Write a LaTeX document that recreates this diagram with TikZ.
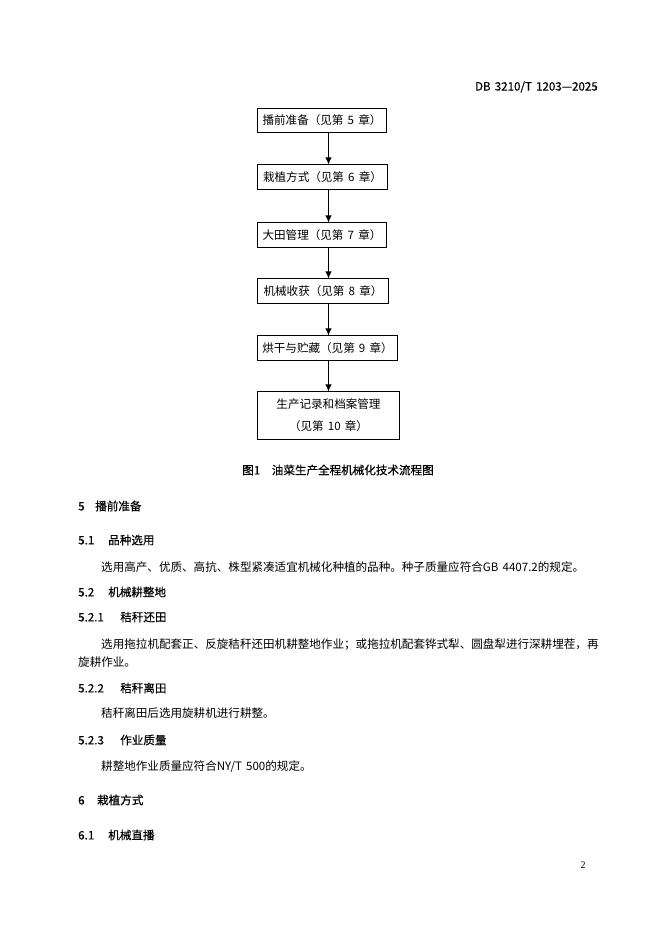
\documentclass[tikz,border=0pt]{standalone}
\usepackage{fontspec}
\setmainfont{Noto Sans CJK SC}[WordSpace=1.6]
\newfontfamily\heifont{Noto Sans CJK SC}[WordSpace=1.6,RawFeature={embolden=0.4}]
\newfontfamily\pgfont{Liberation Serif}
\usetikzlibrary{arrows.meta}

\begin{document}
\begin{tikzpicture}[x=0.8992pt,y=-0.8992pt]
\tikzstyle{every node}+=[inner sep=0pt,font=\fontsize{10.4pt}{16.2pt}\selectfont]
\tikzstyle{stage}=[draw=black,line width=0.9pt,anchor=west,minimum height=21.6pt,align=center]
\tikzstyle{txt}=[anchor=west,align=left]
\tikzstyle{head}=[txt,font=\heifont\fontsize{10.4pt}{16.2pt}\selectfont]
\tikzstyle{flow}=[line width=0.9pt,-{Latex[length=6.5pt,width=6pt]}]
\useasboundingbox (0,0) rectangle (662,936);
\node [anchor=east,font=\heifont\fontsize{10.4pt}{16.2pt}\selectfont] (hdr) at (598,87) {DB 3210/T 1203—2025};
\node [stage,minimum width=116.0pt] (ch5) at (257,120.5) {播前准备（见第 5 章）};
\node [stage,minimum width=116.9pt] (ch6) at (257,177) {栽植方式（见第 6 章）};
\node [stage,minimum width=116.0pt] (ch7) at (257,235) {大田管理（见第 7 章）};
\node [stage,minimum width=117.8pt] (ch8) at (257,291) {机械收获（见第 8 章）};
\node [stage,minimum width=125.9pt] (ch9) at (257,348) {烘干与贮藏（见第 9 章）};
\node [stage,minimum width=127.7pt,minimum height=42.3pt,font=\fontsize{10.4pt}{19.8pt}\selectfont] (ch10) at (257,415.5) {生产记录和档案管理\\（见第 10 章）};
\coordinate (ax) at (328.5,0);
\draw [flow] (ch5.south -| ax) -- (ch6.north -| ax);
\draw [flow] (ch6.south -| ax) -- (ch7.north -| ax);
\draw [flow] (ch7.south -| ax) -- (ch8.north -| ax);
\draw [flow] (ch8.south -| ax) -- (ch9.north -| ax);
\draw [flow] (ch9.south -| ax) -- (ch10.north -| ax);
\node [font=\heifont\fontsize{10.4pt}{16.2pt}\selectfont] (cap) at (338,470) {图1\hspace{1em}油菜生产全程机械化技术流程图};
\node [head] (h5) at (78,506) {\makebox[15.3pt][l]{5}播前准备};
\node [head] (h51) at (78,540) {\makebox[27pt][l]{5.1}品种选用};
\node [txt] (p51) at (101,567) {选用高产、优质、高抗、株型紧凑适宜机械化种植的品种。种子质量应符合GB 4407.2的规定。};
\node [head] (h52) at (78,592) {\makebox[27pt][l]{5.2}机械耕整地};
\node [head] (h521) at (78,617) {\makebox[37.8pt][l]{5.2.1}秸秆还田};
\node [txt] (p521) at (78,653) {\hspace*{20.7pt}选用拖拉机配套正、反旋秸秆还田机耕整地作业；或拖拉机配套铧式犁、圆盘犁进行深耕埋茬，再\\旋耕作业。};
\node [head] (h522) at (78,688) {\makebox[37.8pt][l]{5.2.2}秸秆离田};
\node [txt] (p522) at (101,713) {秸秆离田后选用旋耕机进行耕整。};
\node [head] (h523) at (78,740) {\makebox[37.8pt][l]{5.2.3}作业质量};
\node [txt] (p523) at (101,767) {耕整地作业质量应符合NY/T 500的规定。};
\node [head] (h6) at (78,800) {\makebox[17pt][l]{6}栽植方式};
\node [head] (h61) at (78,835) {\makebox[27pt][l]{6.1}机械直播};
\node [font=\pgfont\fontsize{9pt}{11pt}\selectfont] (pg) at (583,865) {2};
\end{tikzpicture}
\end{document}
